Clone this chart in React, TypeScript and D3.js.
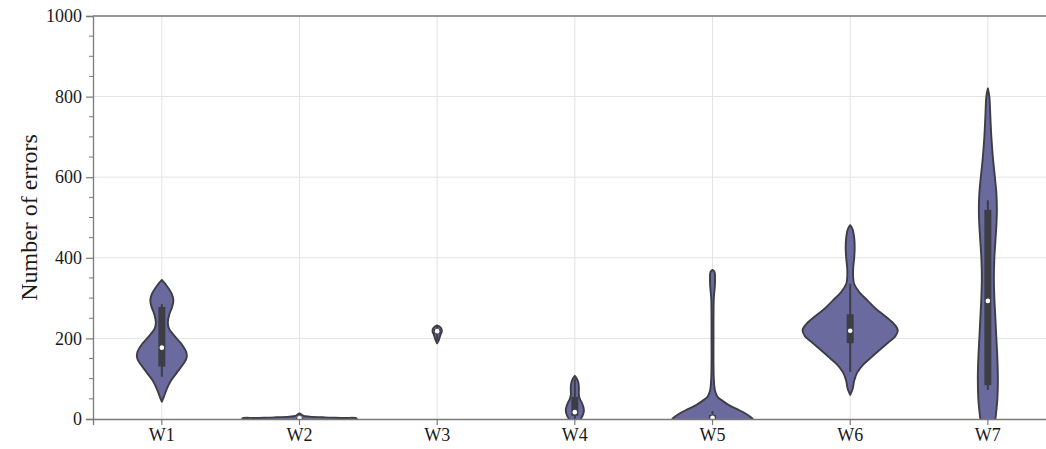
import React, { useEffect, useRef } from 'react';
import * as d3 from 'd3';

// categories
const weeks = ['W1', 'W2', 'W3', 'W4', 'W5', 'W6', 'W7'];

// violin outlines: [value, relative density]
const w1Profile: [number, number][] = [
  [345, 0], [330, 5], [310, 10], [295, 11.5], [280, 10.5], [260, 7.5], [240, 6], [225, 7],
  [205, 13], [185, 20], [165, 24.5], [150, 24.5], [135, 21], [115, 15], [95, 9], [75, 5], [55, 2], [43, 0],
];
const w2Profile: [number, number][] = [
  [14, 0], [11, 2], [8, 4], [6, 10], [4, 25], [2.5, 45], [1, 57], [-10, 57],
];
const w3Profile: [number, number][] = [
  [232, 0], [228, 3], [222, 4.5], [216, 4.5], [210, 3.5], [203, 2.5], [195, 1.5], [188, 0],
];
const w4Profile: [number, number][] = [
  [107, 0], [100, 2], [90, 3.5], [80, 4], [70, 4], [60, 4], [50, 5], [40, 7], [30, 8.5],
  [20, 9], [10, 8], [0, 6], [-10, 5],
];
const w5Profile: [number, number][] = [
  [370, 0], [365, 2], [340, 2.5], [320, 2], [300, 1.3], [200, 1], [100, 1.3], [70, 2.5],
  [55, 5], [45, 10], [35, 16], [25, 24], [15, 32], [5, 38], [0, 40], [-10, 41],
];
const w6Profile: [number, number][] = [
  [481, 0], [470, 2.5], [450, 4], [425, 4.5], [400, 4], [375, 3], [350, 3], [335, 4], [315, 9],
  [295, 17], [275, 25], [255, 35], [235, 44], [220, 47.5], [205, 45], [190, 38], [175, 31],
  [155, 22], [135, 13], [115, 7], [95, 4], [75, 2.5], [60, 0],
];
const w7Profile: [number, number][] = [
  [820, 0], [800, 1.5], [750, 2.5], [700, 3.5], [650, 5], [600, 7], [560, 8.5], [520, 9],
  [480, 8.5], [440, 7.5], [400, 6.5], [350, 6], [300, 6.5], [250, 7.5], [200, 8.5], [150, 9.5],
  [100, 10], [50, 9.5], [10, 8], [0, 7.5], [-10, 7],
];
const profiles = [w1Profile, w2Profile, w3Profile, w4Profile, w5Profile, w6Profile, w7Profile];

// inner box stats
const boxQ1 = [130, 0, 212, 8, 0, 188, 84];
const boxQ3 = [278, 3, 223, 55, 10, 260, 519];
const medians = [177, 2, 218, 17, 3, 219, 293];
const whiskerLow = [105, 0, 195, 0, 0, 117, 72];
const whiskerHigh = [285, 6, 230, 100, 20, 336, 543];

const yTicks = [0, 200, 400, 600, 800, 1000];
const yMinorTicks = d3.range(0, 1001, 50);

const W = 1046;
const H = 449;

const App = () => {
  const ref = useRef<SVGSVGElement>(null);

  useEffect(() => {
    const svg = d3.select(ref.current);
    svg.selectAll('*').remove();

    const margin = { top: 16, left: 93, bottom: 30 };
    const step = 137.67;
    const plotRight = margin.left + step * weeks.length;
    const plotBottom = H - margin.bottom;

    const x = d3.scaleBand().domain(weeks).range([margin.left, plotRight]);
    const y = d3.scaleLinear().domain([0, 1000]).range([plotBottom, margin.top]);
    const maxDensity = d3.max(profiles.flat(), (d) => d[1]) as number;
    const wScale = d3.scaleLinear().domain([0, maxDensity]).range([0, x.bandwidth() * 0.415]);

    const font = '"Liberation Serif", "Times New Roman", serif';

    svg.append('defs').append('clipPath').attr('id', 'plot-clip')
      .append('rect')
      .attr('x', margin.left).attr('y', margin.top)
      .attr('width', plotRight - margin.left).attr('height', plotBottom - margin.top);

    // grid
    svg.append('g')
      .selectAll('line')
      .data(yTicks.slice(1))
      .join('line')
      .attr('x1', margin.left).attr('x2', plotRight)
      .attr('y1', (d) => y(d)).attr('y2', (d) => y(d))
      .attr('stroke', '#e3e3e3').attr('stroke-width', 1);

    svg.append('g')
      .selectAll('line')
      .data(weeks)
      .join('line')
      .attr('x1', (d) => (x(d) as number) + x.bandwidth() / 2)
      .attr('x2', (d) => (x(d) as number) + x.bandwidth() / 2)
      .attr('y1', margin.top).attr('y2', plotBottom)
      .attr('stroke', '#e3e3e3').attr('stroke-width', 1);

    // violins
    const plot = svg.append('g').attr('clip-path', 'url(#plot-clip)');

    weeks.forEach((wk, i) => {
      const cx = (x(wk) as number) + x.bandwidth() / 2;
      const area = d3.area<[number, number]>()
        .y((d) => y(d[0]))
        .x0((d) => cx - wScale(d[1]))
        .x1((d) => cx + wScale(d[1]))
        .curve(d3.curveCatmullRom.alpha(0.5));

      plot.append('path')
        .datum(profiles[i])
        .attr('d', area)
        .attr('fill', '#6a6a9f')
        .attr('stroke', '#3d3d46')
        .attr('stroke-width', 1.9)
        .attr('stroke-linejoin', 'round');

      plot.append('line')
        .attr('x1', cx).attr('x2', cx)
        .attr('y1', y(whiskerLow[i])).attr('y2', y(whiskerHigh[i]))
        .attr('stroke', '#3d3d46').attr('stroke-width', 2);

      plot.append('rect')
        .attr('x', cx - 3.5)
        .attr('width', 7)
        .attr('y', y(boxQ3[i]))
        .attr('height', Math.max(1, y(boxQ1[i]) - y(boxQ3[i])))
        .attr('fill', '#3d3d46');

      plot.append('circle')
        .attr('cx', cx).attr('cy', y(medians[i]))
        .attr('r', 2.3)
        .attr('fill', '#ffffff');
    });

    // frame
    svg.append('line')
      .attr('x1', margin.left).attr('x2', plotRight)
      .attr('y1', margin.top).attr('y2', margin.top)
      .attr('stroke', '#7a7a7a').attr('stroke-width', 1.3);

    // y axis
    const yAxis = svg.append('g')
      .attr('transform', `translate(${margin.left},0)`)
      .call(d3.axisLeft(y).tickValues(yTicks).tickSize(7).tickPadding(4).tickFormat(d3.format('d')));
    yAxis.select('.domain').attr('stroke', '#7a7a7a').attr('stroke-width', 1.3);
    yAxis.selectAll('.tick line').attr('stroke', '#7a7a7a').attr('stroke-width', 1.2);
    yAxis.selectAll('.tick text')
      .attr('font-family', font).attr('font-size', 18).attr('fill', '#1a1a1a');

    svg.append('g')
      .selectAll('line')
      .data(yMinorTicks.filter((d) => d % 200 !== 0))
      .join('line')
      .attr('x1', margin.left - 4).attr('x2', margin.left)
      .attr('y1', (d) => y(d)).attr('y2', (d) => y(d))
      .attr('stroke', '#7a7a7a').attr('stroke-width', 1);

    // x axis
    const xAxis = svg.append('g')
      .attr('transform', `translate(0,${plotBottom})`)
      .call(d3.axisBottom(x).tickSize(6).tickPadding(3));
    xAxis.select('.domain').attr('stroke', '#7a7a7a').attr('stroke-width', 1.3);
    xAxis.selectAll('.tick line').attr('stroke', '#7a7a7a').attr('stroke-width', 1.2);
    xAxis.selectAll('.tick text')
      .attr('font-family', font).attr('font-size', 18).attr('fill', '#1a1a1a');

    // y label
    svg.append('text')
      .attr('transform', `translate(37,${(margin.top + plotBottom) / 2}) rotate(-90)`)
      .attr('text-anchor', 'middle')
      .attr('font-family', font)
      .attr('font-size', 24)
      .attr('fill', '#1a1a1a')
      .text('Number of errors');
  }, []);

  return (
    <svg
      ref={ref}
      width={W}
      height={H}
      style={{ position: 'absolute', left: 0, top: 0, background: '#ffffff', overflow: 'hidden' }}
    />
  );
};

export default App;
